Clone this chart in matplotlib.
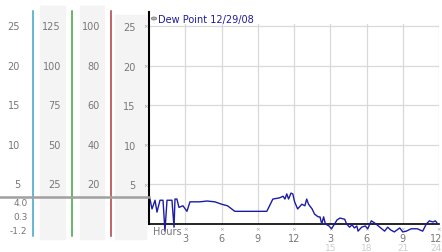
import numpy as np
import matplotlib
matplotlib.use("Agg")
import matplotlib.pyplot as plt
from matplotlib.transforms import blended_transform_factory, ScaledTranslation
from matplotlib.patches import Rectangle, Circle
from matplotlib.lines import Line2D

W, H = 442, 253

# dew point readings, hours since midnight 12/29/08
hours = [0.08, 0.25, 0.5, 0.66, 0.91, 1.16, 1.32, 1.49, 1.9, 2.07, 2.15, 2.31, 2.48,
         2.81, 3.14, 3.39, 4.2, 4.8, 5.45, 6.0, 6.5, 7.1, 8.35, 9.75, 10.25, 10.8,
         11.1, 11.25, 11.4, 11.55, 11.75, 11.9, 12.05, 12.3, 12.65, 12.9, 13.05, 13.2,
         13.5, 13.7, 14.0, 14.15, 14.3, 14.45, 14.6, 14.9, 15.1, 15.4, 15.55, 15.8,
         16.2, 16.35, 16.6, 16.8, 17.0, 17.2, 17.3, 17.6, 17.9, 18.1, 18.4, 18.7,
         19.1, 19.5, 19.75, 20.0, 20.3, 20.75, 21.0, 21.3, 21.7, 22.2, 22.65, 22.95,
         23.2, 23.5, 23.7, 23.9]
dewpoint = [3.15, 1.9, 3.0, 1.5, 3.0, 3.0, -0.9, 3.0, 3.0, -0.4, 3.15, 3.15, 2.1,
            2.3, 1.6, 2.8, 2.8, 2.9, 2.8, 2.5, 2.3, 1.6, 1.6, 1.6, 3.15, 3.3,
            3.5, 3.15, 3.8, 3.15, 3.9, 3.8, 2.8, 1.9, 2.5, 2.3, 3.15, 2.5,
            1.9, 1.25, 0.9, 0.9, 0.0, 0.9, 0.0, -0.25, -0.6, 0.1, 0.5, 0.75,
            0.6, 0.0, -0.4, -0.1, -0.5, -0.25, -0.9, -0.4, -0.25, -0.6, 0.4, 0.1,
            -0.4, -0.9, -0.4, -0.75, -1.0, -0.5, -1.0, -0.9, -0.6, -0.6, -0.9, 0.0,
            0.4, 0.25, 0.4, 0.0]

yticks = [5, 10, 15, 20, 25]
col1_labels = ["5", "10", "15", "20", "25"]
col2_labels = ["25", "50", "75", "100", "125"]
col3_labels = ["20", "40", "60", "80", "100"]
col4_labels = ["5", "10", "15", "20", "25"]
small_labels = ["4.0", "0.3", "-1.2"]
xticks = [3, 6, 9, 12, 15, 18, 21, 24]
xlabels_top = ["3", "6", "9", "12", "3", "6", "9", "12"]
xlabels_bot = ["15", "18", "21", "24"]


def fx(x):
    return x / W


def fy(y):
    return 1 - y / H


fig = plt.figure(figsize=(W / 100, H / 100), dpi=100)
fig.patch.set_facecolor("white")
shift = ScaledTranslation(-3 / 100, 0, fig.dpi_scale_trans)  # last labels hug the edge

# gray background columns
for x0, x1, y0 in [(40, 65, 7), (80, 104, 7), (115, 146, 16)]:
    fig.patches.append(Rectangle((fx(x0), fy(240)), fx(x1) - fx(x0), fy(y0) - fy(240),
                                 transform=fig.transFigure, color="#f4f4f4", zorder=-5))

ax = fig.add_axes([fx(149), fy(225), fx(439) - fx(149), fy(25) - fy(225)])
ax.set_zorder(2)
ax.set_xlim(0, 24)
ax.set_ylim(0, 25.25)
ax.set_facecolor("none")
ax.set_xticks(xticks)
ax.set_xticklabels(xlabels_top)
ax.set_yticks(yticks)
ax.set_yticklabels(col4_labels)
ax.tick_params(length=0, labelsize=7, colors="#777777")
ax.tick_params(axis="y", pad=9.5)
ax.tick_params(axis="x", pad=6.5)
ax.grid(True, color="#d9d9d9", lw=0.9)
for s in ["top", "right", "left"]:
    ax.spines[s].set_visible(False)
ax.spines["bottom"].set_color("black")
ax.spines["bottom"].set_linewidth(1.2)
last = ax.get_xticklabels()[-1]
last.set_transform(last.get_transform() + shift)

ax.plot(hours, dewpoint, color="#1c1ca6", lw=1.0, clip_on=False, zorder=5)

# left axis line, taller than the plot
fig.lines.append(Line2D([fx(149), fx(149)], [fy(225), fy(13)], transform=fig.transFigure,
                        color="black", lw=1.5, zorder=3))

# colored scale lines and the gray separator
for x, c in [(33, "#3aa6c4"), (72, "#3aa63a"), (111, "#b03a3a")]:
    fig.lines.append(Line2D([fx(x), fx(x)], [fy(237), fy(12)], transform=fig.transFigure,
                            color=c, lw=1.1))
fig.lines.append(Line2D([0, fx(149)], [fy(197.5), fy(197.5)], transform=fig.transFigure,
                        color="#a0a0a0", lw=1.8, zorder=3))

# extra scale columns tied to the plot's y scale
tr = blended_transform_factory(fig.transFigure, ax.transData)
for v, a, b, c in zip(yticks, col1_labels, col2_labels, col3_labels):
    fig.text(fx(20), v, a, transform=tr, ha="right", va="center", fontsize=7, color="#777777")
    fig.text(fx(61), v, b, transform=tr, ha="right", va="center", fontsize=7, color="#777777")
    fig.text(fx(100), v, c, transform=tr, ha="right", va="center", fontsize=7, color="#777777")
    fig.text(fx(145.5), v, "×", transform=tr, ha="center", va="center", fontsize=4,
             color="#999999", zorder=4)
for lab, y in zip(small_labels, [204, 218, 232]):
    fig.text(fx(27.5), fy(y), lab, ha="right", va="center", fontsize=6.5, color="#777777")

# hour markers and second row of labels
trx = blended_transform_factory(ax.transData, fig.transFigure)
for h in xticks:
    ax.text(h, fy(230), "×", transform=trx, ha="center", va="center", fontsize=4,
            color="#999999", clip_on=False)
for i, (h, lab) in enumerate(zip(xticks[4:], xlabels_bot)):
    t = trx + shift if i == len(xlabels_bot) - 1 else trx
    ax.text(h, fy(248.5), lab, transform=t, ha="center", va="center", fontsize=6.5,
            color="#cccccc", clip_on=False)
fig.text(fx(153), fy(232.5), "Hours", ha="left", va="center", fontsize=7, color="#777777")

# legend
fig.patches.append(Circle((fx(154), fy(19.5)), 2.6 / W, transform=fig.transFigure,
                          facecolor="#b0b0b0", edgecolor="#808080", lw=0.6))
fig.text(fx(158), fy(19.5), "Dew Point 12/29/08", ha="left", va="center", fontsize=7,
         color="#1c1c9c")

fig.savefig("out.png", dpi=100)
